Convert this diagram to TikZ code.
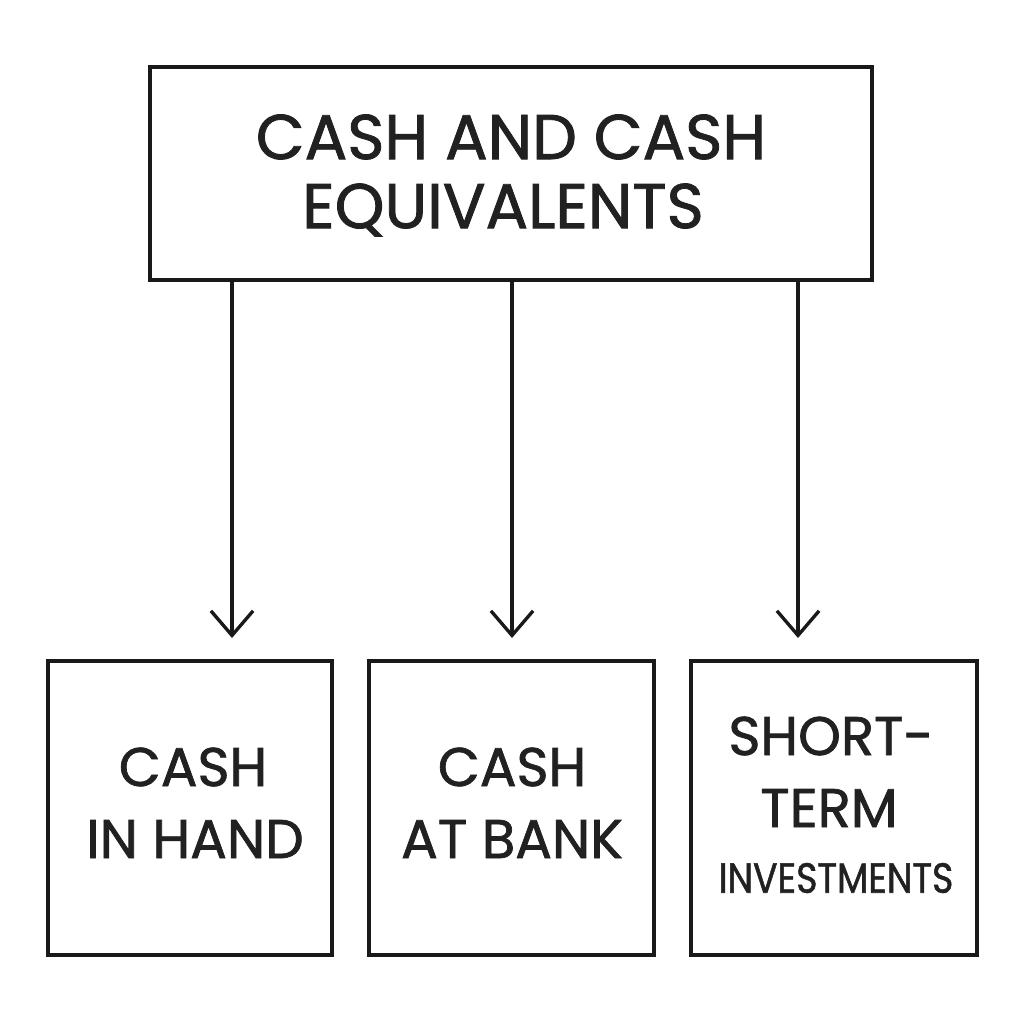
\documentclass[tikz,border=0pt]{standalone}
\usepackage{fontspec}
\setmainfont{Poppins}[FakeBold=1.3]
\usetikzlibrary{arrows.meta}
\begin{document}
\begin{tikzpicture}[x=0.02cm,y=-0.02cm,
  box/.style={draw=black!90,line width=1.9pt,inner sep=0pt},
  txt/.style={inner sep=0pt,text=black!87,font=\fontsize{31}{31}\selectfont},
  bigtxt/.style={inner sep=0pt,text=black!87,font=\fontsize{36}{36}\selectfont},
  smalltxt/.style={inner sep=0pt,text=black!87,font=\fontsize{24}{24}\selectfont},
  conn/.style={draw=black!90,line width=1.9pt,-{Straight Barb[length=14pt,width=24pt,line width=1.9pt]}}]
\useasboundingbox[fill=white] (0,0) rectangle (1024,1024);
\node[box,minimum width=722*0.02cm,minimum height=213*0.02cm] (top) at (511,173.5) {};
\node[box,minimum width=284*0.02cm,minimum height=294*0.02cm] (b1) at (190,808) {};
\node[box,minimum width=285*0.02cm,minimum height=294*0.02cm] (b2) at (511.5,808) {};
\node[box,minimum width=286*0.02cm,minimum height=294*0.02cm] (b3) at (834,808) {};
\node[bigtxt] (t1) at (511,137) {CASH AND CASH};
\node[bigtxt] (t2) at (503,210) {EQUIVALENTS};
\node[txt] (c1) at (193,767) {CASH};
\node[txt] (c2) at (195,839) {IN HAND};
\node[txt] (d1) at (512,767) {CASH};
\node[txt] (d2) at (512,839) {AT BANK};
\node[txt] (e1) at (831,736) {SHORT-};
\node[txt] (e2) at (829,808) {TERM};
\node[smalltxt] (e3) at (836,878) {\scalebox{0.86}[1]{INVESTMENTS}};
\coordinate (a1) at (232,638);
\coordinate (a2) at (512,638);
\coordinate (a3) at (798,638);
\draw[conn] (top.south -| a1) -- (a1);
\draw[conn] (top.south -| a2) -- (a2);
\draw[conn] (top.south -| a3) -- (a3);
\end{tikzpicture}
\end{document}
